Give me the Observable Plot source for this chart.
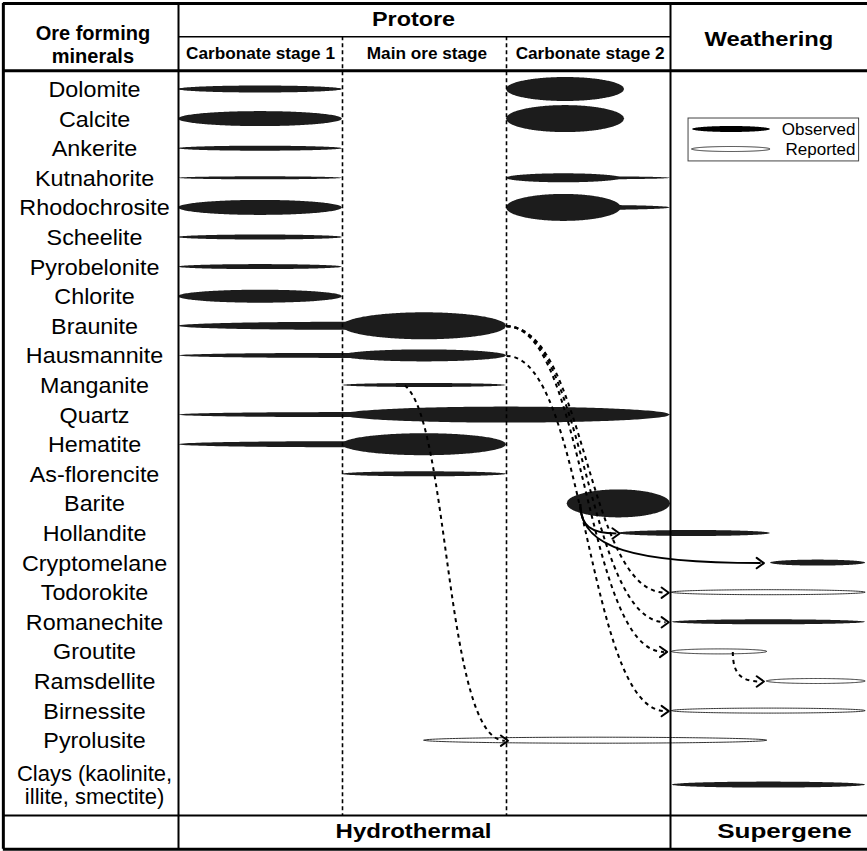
<!DOCTYPE html>
<html>
<head>
<meta charset="utf-8">
<script src="https://cdn.jsdelivr.net/npm/d3@7"></script>
<script src="https://cdn.jsdelivr.net/npm/@observablehq/plot@0.6"></script>
<style>
  body { margin: 0; background: #fff; }
  #chart svg { display: block; }
</style>
</head>
<body>
<div id="chart"></div>
<script>
// ---------------- DATA ----------------
const minerals = ["Dolomite","Calcite","Ankerite","Kutnahorite","Rhodochrosite","Scheelite","Pyrobelonite","Chlorite","Braunite","Hausmannite","Manganite","Quartz","Hematite","As-florencite","Barite","Hollandite","Cryptomelane","Todorokite","Romanechite","Groutite","Ramsdellite","Birnessite","Pyrolusite","Clays"];
const mineralLabels = ["Dolomite","Calcite","Ankerite","Kutnahorite","Rhodochrosite","Scheelite","Pyrobelonite","Chlorite","Braunite","Hausmannite","Manganite","Quartz","Hematite","As-florencite","Barite","Hollandite","Cryptomelane","Todorokite","Romanechite","Groutite","Ramsdellite","Birnessite","Pyrolusite","Clays (kaolinite,\nillite, smectite)"];

const stages = ["Carbonate stage 1","Main ore stage","Carbonate stage 2"];
const stageStart = [0, 1, 2];
const stageLabelX = [0.5, 1.515, 2.51];
const periods = ["Hydrothermal","Supergene"];
const periodLabelX = [1.433, 3.695];
const headerGroups = ["Protore","Weathering"];
const headerLabelX = [1.433, 3.6];
const legendLabels = ["Observed","Reported"];
const legendKinds = ["observed","reported"];

// lenses: mineral, start, end (relative time: 0-1 carb. stage 1, 1-2 main ore, 2-3 carb. stage 2, 3+ weathering), abundance, kind
const lensMineral = ["Dolomite","Dolomite","Calcite","Calcite","Ankerite","Kutnahorite","Kutnahorite","Kutnahorite","Rhodochrosite","Rhodochrosite","Rhodochrosite","Scheelite","Pyrobelonite","Chlorite","Braunite","Braunite","Hausmannite","Hausmannite","Manganite","Quartz","Quartz","Hematite","Hematite","As-florencite","Barite","Hollandite","Cryptomelane","Todorokite","Romanechite","Groutite","Ramsdellite","Birnessite","Pyrolusite","Clays"];
const lensStart = [0,2.0,0,2.0,0,0,2.0,2.0,0,2.0,2.0,0,0,0,0,1,0,1,1,0,1,0,1,1,2.37,2.68,3.61,3.01,3.01,3.01,3.59,3.01,1.5,3.01];
const lensEnd   = [1,2.72,1,2.72,1,1,3.0,2.70,1,3.0,2.70,1,1,1,2,2,2,2,2,2,3,2,2,2,3.0,3.61,4.19,4.19,4.19,3.59,4.19,4.19,3.59,4.19];
const lensAbund = [7,24,15,27,5,3,3,9,15,5,27,5,5,13,8,27,5,12,4,5,16,6,22,5,28,6,6,5,5,5,5,5,6,6];
const lensKind  = ["observed","observed","observed","observed","observed","observed","observed","observed","observed","observed","observed","observed","observed","observed","observed","observed","observed","observed","observed","observed","observed","observed","observed","observed","observed","observed","observed","reported","observed","reported","reported","reported","reported","observed"];

// transformation arrows
const arrowFrom  = ["Braunite","Braunite","Braunite","Hausmannite","Manganite","Groutite","Barite","Barite"];
const arrowFromX = [2.0, 2.0, 2.0, 2.0, 1.38, 3.38, 2.45, 2.45];
const arrowTo    = ["Todorokite","Romanechite","Groutite","Birnessite","Pyrolusite","Ramsdellite","Hollandite","Cryptomelane"];
const arrowToX   = [2.97, 2.97, 2.96, 2.97, 1.99, 3.55, 2.67, 3.55];
const arrowShape = ["bump","bump","bump","bump","swoop","hook","hook","hook"];
const arrowKind  = ["reported","reported","reported","reported","reported","reported","observed","observed"];

// ---------------- LAYOUT HELPERS ----------------
const W = 867, H = 851;
const PX_PER_ROW = 29.6;
const rowSpan = mineralLabels.map(s => s.split("\n").length);
const rowY = new Map();
{ let acc = 0; minerals.forEach((m, i) => { rowY.set(m, acc + rowSpan[i] / 2); acc += rowSpan[i]; }); }
const Y_TOP = -2.405, Y_SUB = -1.28, Y_HEAD = -0.13, Y_FOOT = 25.03, Y_BOT = 26.17;
const X_LEFT = -1.068, X_RIGHT = 4.25, X_LABEL = -0.512;

function lensPoints(ids, starts, ends, ys, abunds, kinds) {
  const pts = [];
  ids.forEach((id, i) => {
    const h = abunds[i] / PX_PER_ROW / 2;
    const N = 120;
    for (let k = 0; k <= N; k++) {
      const t = k / N, u = 2 * t - 1;
      const w = h * Math.sqrt(Math.max(0, 1 - u * u));
      pts.push({id, kind: kinds[i], x: starts[i] + (ends[i] - starts[i]) * t, y1: ys[i] - w, y2: ys[i] + w});
    }
  });
  return pts;
}

const lensPts = lensPoints(lensMineral.map((m, i) => "L" + i), lensStart, lensEnd,
  lensMineral.map(m => rowY.get(m)), lensAbund, lensKind);

// legend geometry
const LEG_Y = [1.851, 2.527];
const legendPts = lensPoints(legendLabels, [3.134, 3.134], [3.61, 3.61], LEG_Y, [6, 5], legendKinds);

const arrows = arrowFrom.map((f, i) => ({
  x1: arrowFromX[i], y1: rowY.get(f), x2: arrowToX[i], y2: rowY.get(arrowTo[i]),
  shape: arrowShape[i], kind: arrowKind[i]
}));

// custom two-point bezier curves
function bezierCurve(c1, c2) {
  return function (context) {
    let pts = [];
    return {
      areaStart() {}, areaEnd() {},
      lineStart() { pts = []; },
      point(x, y) { pts.push([+x, +y]); },
      lineEnd() {
        const a = pts[0], b = pts[pts.length - 1], dx = b[0] - a[0], dy = b[1] - a[1];
        context.moveTo(a[0], a[1]);
        context.bezierCurveTo(a[0] + c1[0] * dx, a[1] + c1[1] * dy, a[0] + c2[0] * dx, a[1] + c2[1] * dy, b[0], b[1]);
      }
    };
  };
}
const curveHook = bezierCurve([0, 0.75], [0.3, 1]);   // leaves vertically, arrives horizontally
const curveSwoop = bezierCurve([0.45, 0.1], [0.4, 1]); // leaves diagonally, arrives horizontally

const FONT = "'Liberation Sans', Arial, Helvetica, sans-serif";
const INK = "#1c1c1c";

const mineralText = minerals.map((m, i) => ({label: mineralLabels[i], y: rowY.get(m)}));
const linkOpts = (shape, kind, curve) => [
  arrows.filter(d => d.shape === shape && d.kind === kind),
  {x1: "x1", y1: "y1", x2: "x2", y2: "y2", curve, stroke: "#000", strokeWidth: 2,
   strokeDasharray: kind === "reported" ? "4,4" : null, markerEnd: "arrow"}
];

const plot = Plot.plot({
  width: W, height: H,
  marginTop: 0, marginBottom: 0, marginLeft: 0, marginRight: 0,
  x: {domain: [-178 / 164, (W - 178) / 164], range: [0, W], axis: null},
  y: {domain: [-74.2 / PX_PER_ROW, (H - 74.2) / PX_PER_ROW], range: [0, H], axis: null},
  style: {fontFamily: FONT, background: "#fff"},
  marks: [
    // lenses
    Plot.areaY(lensPts.filter(d => d.kind === "observed"), {x: "x", y1: "y1", y2: "y2", z: "id", fill: INK, curve: "linear"}),
    Plot.areaY(lensPts.filter(d => d.kind === "reported"), {x: "x", y1: "y1", y2: "y2", z: "id", fill: "#fff", stroke: "#333", strokeWidth: 1, curve: "linear"}),
    // grid / table lines
    Plot.ruleX(stageStart.slice(1), {y1: Y_SUB, y2: Y_FOOT, stroke: "#000", strokeWidth: 1.6, strokeDasharray: "4,3"}),
    Plot.ruleX([0, 3], {y1: Y_TOP, y2: Y_BOT, stroke: "#000", strokeWidth: 2}),
    Plot.ruleX([X_LEFT], {y1: Y_TOP, y2: Y_BOT, stroke: "#000", strokeWidth: 3}),
    Plot.ruleY([Y_SUB], {x1: 0, x2: 3, stroke: "#000", strokeWidth: 1.5}),
    Plot.ruleY([Y_FOOT], {x1: X_LEFT, x2: X_RIGHT, stroke: "#000", strokeWidth: 2}),
    Plot.ruleY([Y_TOP, Y_HEAD, Y_BOT], {x1: X_LEFT, x2: X_RIGHT, stroke: "#000", strokeWidth: 3}),
    // legend
    Plot.rect([0], {x1: 3.11, x2: 4.15, y1: 1.48, y2: 2.93, fill: "none", stroke: "#444", strokeWidth: 1}),
    Plot.areaY(legendPts.filter(d => d.kind === "observed"), {x: "x", y1: "y1", y2: "y2", z: "id", fill: "#000"}),
    Plot.areaY(legendPts.filter(d => d.kind === "reported"), {x: "x", y1: "y1", y2: "y2", z: "id", fill: "#fff", stroke: "#333", strokeWidth: 1}),
    Plot.text(legendLabels, {x: 4.128, y: (d, i) => LEG_Y[i], text: d => d, textAnchor: "end", fontSize: 17, fontFamily: FONT, fill: "#000"}),
    // arrows
    Plot.link(...linkOpts("bump", "reported", "bump-x")),
    Plot.link(...linkOpts("swoop", "reported", curveSwoop)),
    Plot.link(...linkOpts("hook", "reported", curveHook)),
    Plot.link(...linkOpts("hook", "observed", curveHook)),
    // mineral labels
    Plot.text(mineralText, {x: X_LABEL, y: "y", text: "label", fontSize: 22, lineHeight: 1.05, fontFamily: FONT, fill: "#000", ariaDescription: "stretch-106"}),
    // headers
    Plot.text(["Ore forming\nminerals"], {x: X_LABEL - 0.01, y: -1.04, text: d => d, fontSize: 20, lineHeight: 1.15, fontWeight: "bold", fontFamily: FONT, fill: "#000"}),
    Plot.text([headerGroups[0]], {x: headerLabelX[0], y: -1.848, text: d => d, fontSize: 20, fontWeight: "bold", fontFamily: FONT, fill: "#000", ariaDescription: "stretch-117"}),
    Plot.text([headerGroups[1]], {x: headerLabelX[1], y: -1.19, text: d => d, fontSize: 21, fontWeight: "bold", fontFamily: FONT, fill: "#000", ariaDescription: "stretch-113"}),
    Plot.text(stages, {x: (d, i) => stageLabelX[i], y: -0.70, text: d => d, fontSize: 17.2, fontWeight: "bold", fontFamily: FONT, fill: "#000"}),
    Plot.text([periods[0]], {x: periodLabelX[0], y: 25.58, text: d => d, fontSize: 20.5, fontWeight: "bold", fontFamily: FONT, fill: "#000", ariaDescription: "stretch-117"}),
    Plot.text([periods[1]], {x: periodLabelX[1], y: 25.58, text: d => d, fontSize: 20.5, fontWeight: "bold", fontFamily: FONT, fill: "#000", ariaDescription: "stretch-127"})
  ]
});

document.getElementById("chart").append(plot);

function stretch(label, f) {
  plot.querySelectorAll(`g[aria-description="${label}"] text`).forEach(t => {
    if (t.querySelector("tspan")) return;
    const w = t.getComputedTextLength();
    t.setAttribute("textLength", (w * f).toFixed(1));
    t.setAttribute("lengthAdjust", "spacingAndGlyphs");
  });
}
stretch("stretch-106", 1.06);
stretch("stretch-117", 1.17);
stretch("stretch-113", 1.13);
stretch("stretch-127", 1.27);

// larger open chevron arrowheads, solid even on dashed links
plot.querySelectorAll("marker").forEach(m => {
  m.setAttribute("markerWidth", 10);
  m.setAttribute("markerHeight", 10);
  m.setAttribute("stroke-width", 1);
  m.setAttribute("stroke-dasharray", "none");
  const p = m.querySelector("path");
  if (p) p.setAttribute("d", "M-2,-2.6L1.6,0L-2,2.6");
});
</script>
</body>
</html>
